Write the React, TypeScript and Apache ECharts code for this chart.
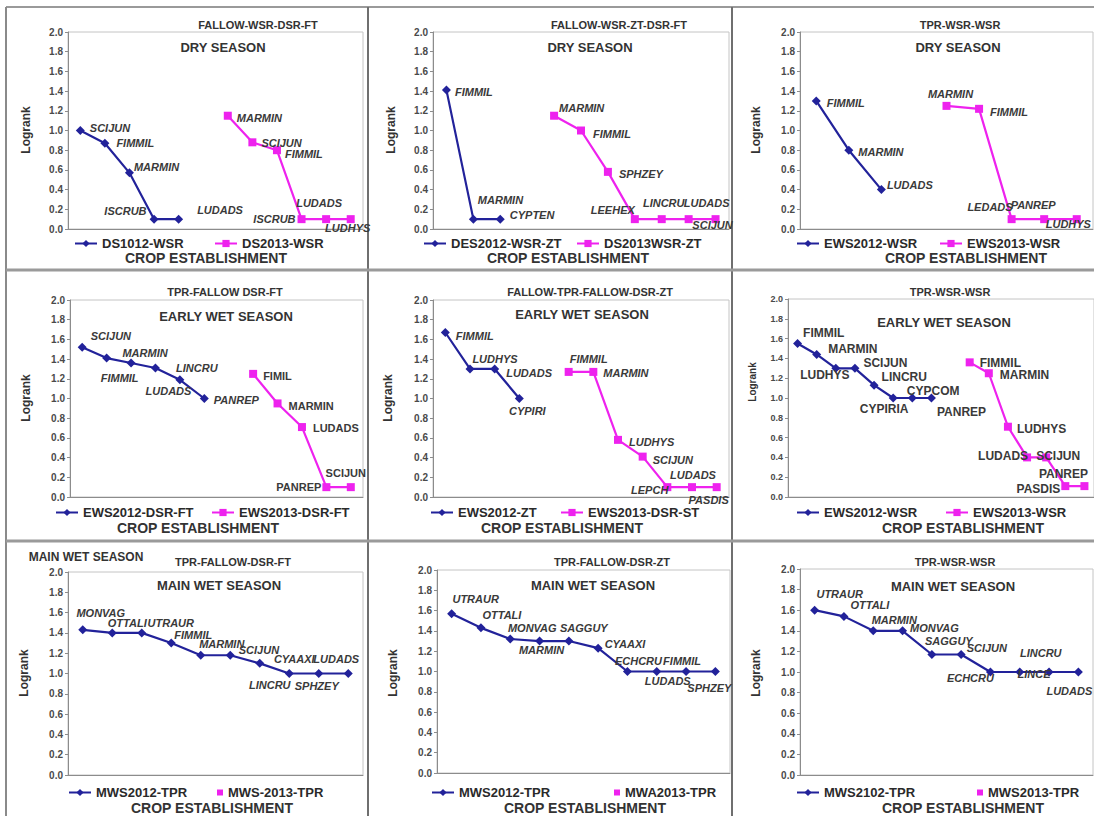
import React, { useEffect, useRef } from 'react';
import * as echarts from 'echarts';

const FONT = '"Liberation Sans", Arial, sans-serif';
const BLUE = '#22229a';
const PINK = '#ee22ee';
const TXT = '#333333';

// ---------- categories (crop-establishment slots, unlabeled in the original) ----------
const cats9 = ['1', '2', '3', '4', '5', '6', '7', '8', '9'];
const cats10 = ['1', '2', '3', '4', '5', '6', '7', '8', '9', '10'];
const cats11 = ['1', '2', '3', '4', '5', '6', '7', '8', '9', '10', '11'];
const cats12 = ['1', '2', '3', '4', '5', '6', '7', '8', '9', '10', '11', '12'];
const cats16 = ['1', '2', '3', '4', '5', '6', '7', '8', '9', '10', '11', '12', '13', '14', '15', '16'];

const yTicks = [0, 0.2, 0.4, 0.6, 0.8, 1.0, 1.2, 1.4, 1.6, 1.8, 2.0];

// ---------- Panel 1: FALLOW-WSR-DSR-FT, dry season ----------
const p1BlueName = 'DS1012-WSR';
const p1BlueStart = 0;
const p1Blue = [1.0, 0.87, 0.57, 0.1, 0.1];
const p1BlueWeeds = ['SCIJUN', 'FIMMIL', 'MARMIN', 'ISCRUB', 'LUDADS'];
const p1PinkName = 'DS2013-WSR';
const p1PinkStart = 6;
const p1Pink = [1.15, 0.88, 0.8, 0.1, 0.1, 0.1];
const p1PinkWeeds = ['MARMIN', 'SCIJUN', 'FIMMIL', 'ISCRUB', 'LUDADS', 'LUDHYS'];

// ---------- Panel 2: FALLOW-WSR-ZT-DSR-FT, dry season ----------
const p2BlueName = 'DES2012-WSR-ZT';
const p2BlueStart = 0;
const p2Blue = [1.41, 0.1, 0.1];
const p2BlueWeeds = ['FIMMIL', 'MARMIN', 'CYPTEN'];
const p2PinkName = 'DS2013WSR-ZT';
const p2PinkStart = 4;
const p2Pink = [1.15, 1.0, 0.58, 0.1, 0.1, 0.1, 0.1];
const p2PinkWeeds = ['MARMIN', 'FIMMIL', 'SPHZEY', 'LEEHEX', 'LINCRU', 'LUDADS', 'SCIJUN'];

// ---------- Panel 3: TPR-WSR-WSR, dry season ----------
const p3BlueName = 'EWS2012-WSR';
const p3BlueStart = 0;
const p3Blue = [1.3, 0.8, 0.4];
const p3BlueWeeds = ['FIMMIL', 'MARMIN', 'LUDADS'];
const p3PinkName = 'EWS2013-WSR';
const p3PinkStart = 4;
const p3Pink = [1.25, 1.22, 0.1, 0.1, 0.1];
const p3PinkWeeds = ['MARMIN', 'FIMMIL', 'LEDADS', 'PANREP', 'LUDHYS'];

// ---------- Panel 4: TPR-FALLOW DSR-FT, early wet season ----------
const p4BlueName = 'EWS2012-DSR-FT';
const p4BlueStart = 0;
const p4Blue = [1.52, 1.41, 1.36, 1.31, 1.19, 1.0];
const p4BlueWeeds = ['SCIJUN', 'FIMMIL', 'MARMIN', 'LUDADS', 'LINCRU', 'PANREP'];
const p4PinkName = 'EWS2013-DSR-FT';
const p4PinkStart = 7;
const p4Pink = [1.25, 0.95, 0.71, 0.1, 0.1];
const p4PinkWeeds = ['FIMIL', 'MARMIN', 'LUDADS', 'PANREP', 'SCIJUN'];

// ---------- Panel 5: FALLOW-TPR-FALLOW-DSR-ZT, early wet season ----------
const p5BlueName = 'EWS2012-ZT';
const p5BlueStart = 0;
const p5Blue = [1.67, 1.3, 1.3, 1.0];
const p5BlueWeeds = ['FIMMIL', 'LUDHYS', 'LUDADS', 'CYPIRI'];
const p5PinkName = 'EWS2013-DSR-ST';
const p5PinkStart = 5;
const p5Pink = [1.27, 1.27, 0.58, 0.41, 0.1, 0.1, 0.1];
const p5PinkWeeds = ['FIMMIL', 'MARMIN', 'LUDHYS', 'SCIJUN', 'LEPCH', 'LUDADS', 'PASDIS'];

// ---------- Panel 6: TPR-WSR-WSR, early wet season ----------
const p6BlueName = 'EWS2012-WSR';
const p6BlueStart = 0;
const p6Blue = [1.55, 1.44, 1.3, 1.3, 1.13, 1.0, 1.0, 1.0];
const p6BlueWeeds = ['FIMMIL', 'MARMIN', 'LUDHYS', 'SCIJUN', 'LINCRU', 'CYPIRIA', 'CYPCOM', 'PANREP'];
const p6PinkName = 'EWS2013-WSR';
const p6PinkStart = 9;
const p6Pink = [1.36, 1.25, 0.71, 0.4, 0.4, 0.11, 0.11];
const p6PinkWeeds = ['FIMMIL', 'MARMIN', 'LUDHYS', 'LUDADS', 'SCIJUN', 'PASDIS', 'PANREP'];

// ---------- Panel 7: TPR-FALLOW-DSR-FT, main wet season ----------
const p7BlueName = 'MWS2012-TPR';
const p7BlueStart = 0;
const p7Blue = [1.43, 1.4, 1.4, 1.3, 1.18, 1.18, 1.1, 1.0, 1.0, 1.0];
const p7BlueWeeds = ['MONVAG', 'OTTALI', 'UTRAUR', 'FIMMIL', 'MARMIN', 'SCIJUN', 'LINCRU', 'CYAAXI', 'SPHZEY', 'LUDADS'];
const p7PinkName = 'MWS-2013-TPR';
const p7PinkStart = 0;
const p7Pink: number[] = [];
const p7PinkWeeds: string[] = [];

// ---------- Panel 8: TPR-FALLOW-DSR-ZT, main wet season ----------
const p8BlueName = 'MWS2012-TPR';
const p8BlueStart = 0;
const p8Blue = [1.57, 1.43, 1.32, 1.3, 1.3, 1.23, 1.0, 1.0, 1.0, 1.0];
const p8BlueWeeds = ['UTRAUR', 'OTTALI', 'MONVAG', 'MARMIN', 'SAGGUY', 'CYAAXI', 'ECHCRU', 'LUDADS', 'FIMMIL', 'SPHZEY'];
const p8PinkName = 'MWA2013-TPR';
const p8PinkStart = 0;
const p8Pink: number[] = [];
const p8PinkWeeds: string[] = [];

// ---------- Panel 9: TPR-WSR-WSR, main wet season ----------
const p9BlueName = 'MWS2102-TPR';
const p9BlueStart = 0;
const p9Blue = [1.6, 1.54, 1.4, 1.4, 1.17, 1.17, 1.0, 1.0, 1.0, 1.0];
const p9BlueWeeds = ['UTRAUR', 'OTTALI', 'MARMIN', 'MONVAG', 'SAGGUY', 'SCIJUN', 'ECHCRU', 'LINCRU', 'LINCE', 'LUDADS'];
const p9PinkName = 'MWS2013-TPR';
const p9PinkStart = 0;
const p9Pink: number[] = [];
const p9PinkWeeds: string[] = [];

// ---------- label placements (style only): [side, dx, dy] ----------
type Place = [string, number, number];
const p1BluePlace: Place[] = [['r', 0, -3], ['r', 2, 0], ['r', -5, -6], ['l', 2, -8], ['r', 9, -9]];
const p1PinkPlace: Place[] = [['r', 0, 2], ['r', 0, 1], ['r', -1, 4], ['l', 3, 0], ['t', -7, -2], ['b', -3, -6]];
const p2BluePlace: Place[] = [['r', -1, 2], ['r', -5, -19], ['r', 0, -4]];
const p2PinkPlace: Place[] = [['r', -4, -8], ['r', 3, 3], ['r', 2, 2], ['l', 9, -9], ['t', 2, -2], ['t', 18, -2], ['b', -3, -9]];
const p3BluePlace: Place[] = [['r', 1, 2], ['r', 0, 2], ['r', -4, -5]];
const p3PinkPlace: Place[] = [['t', 4, 3], ['r', 2, 3], ['l', 10, -12], ['t', -11, 0], ['r', -40, 5]];
const p4BluePlace: Place[] = [['r', -1, -11], ['b', 13, 5], ['t', 14, 5], ['b', 13, 8], ['t', 17, 3], ['r', 0, 1]];
const p4PinkPlace: Place[] = [['r', 1, 2], ['r', 2, 3], ['r', 2, 1], ['l', 4, 0], ['t', -5, 0]];
const p5BluePlace: Place[] = [['r', 1, 3], ['t', 25, 5], ['r', 2, 4], ['b', 8, -3]];
const p5PinkPlace: Place[] = [['t', 20, 2], ['r', 1, 1], ['r', 2, 2], ['r', 1, 3], ['l', 10, 3], ['t', 1, 2], ['b', -8, -2]];
const p6BluePlace: Place[] = [['r', -4, -11], ['r', 2, -5], ['b', -11, -9], ['r', -1, -5], ['r', -2, -8], ['b', -9, -5], ['r', -15, -7], ['r', -4, 14]];
const p6PinkPlace: Place[] = [['r', 1, 1], ['r', 2, 2], ['r', 0, 2], ['l', 10, -1], ['r', -19, -1], ['l', 4, 3], ['t', -21, 3]];
const p7BluePlace: Place[] = [['t', 18, -2], ['t', 15, 5], ['t', 29, 5], ['t', 22, 7], ['t', 21, 4], ['r', -1, -5], ['b', 10, 7], ['t', 5, 0], ['b', -2, -3], ['t', -12, 0]];
const p8BluePlace: Place[] = [['t', 24, 0], ['t', 21, 2], ['t', 22, 4], ['b', 2, -6], ['t', 15, 2], ['r', -3, -4], ['t', 11, 4], ['b', 11, -6], ['t', -4, 4], ['b', -6, 1]];
const p9BluePlace: Place[] = [['t', 25, -1], ['t', 26, 4], ['t', 21, 4], ['r', -2, -3], ['t', 17, 2], ['r', -4, -6], ['l', 13, 6], ['t', 21, -4], ['l', 11, 2], ['b', -9, 4]];

const SIDE: Record<string, string> = { r: 'right', l: 'left', t: 'top', b: 'bottom' };

// ---------- layout (positions and text styles) ----------
const panels = [
  { cats: cats12, grid: [68, 32, 295, 197], title: 'FALLOW-WSR-DSR-FT', tx: 258, ty: 25, sub: 'DRY SEASON', sx: 223, sy: 47, cx: 206, cy: 258, lx: 26, ly: 130, lgB: 74, lgP: 214, lgY: 244,
    blue: [p1BlueName, p1BlueStart, p1Blue, p1BlueWeeds, p1BluePlace], pink: [p1PinkName, p1PinkStart, p1Pink, p1PinkWeeds, p1PinkPlace], bItal: true, pItal: true, lblSize: 11, tick: 10 },
  { cats: cats11, grid: [433, 32, 296, 197], title: 'FALLOW-WSR-ZT-DSR-FT', tx: 619, ty: 25, sub: 'DRY SEASON', sx: 590, sy: 47, cx: 568, cy: 258, lx: 391, ly: 130, lgB: 423, lgP: 576, lgY: 244,
    blue: [p2BlueName, p2BlueStart, p2Blue, p2BlueWeeds, p2BluePlace], pink: [p2PinkName, p2PinkStart, p2Pink, p2PinkWeeds, p2PinkPlace], bItal: true, pItal: true, lblSize: 11, tick: 10 },
  { cats: cats9, grid: [800, 32, 293, 197], title: 'TPR-WSR-WSR', tx: 960, ty: 25, sub: 'DRY SEASON', sx: 958, sy: 47, cx: 966, cy: 258, lx: 756, ly: 130, lgB: 796, lgP: 939, lgY: 244,
    blue: [p3BlueName, p3BlueStart, p3Blue, p3BlueWeeds, p3BluePlace], pink: [p3PinkName, p3PinkStart, p3Pink, p3PinkWeeds, p3PinkPlace], bItal: true, pItal: true, lblSize: 11, tick: 10 },
  { cats: cats12, grid: [70, 300, 293, 197], title: 'TPR-FALLOW DSR-FT', tx: 225, ty: 292, sub: 'EARLY WET SEASON', sx: 226, sy: 316, cx: 198, cy: 528, lx: 26, ly: 398, lgB: 55, lgP: 211, lgY: 513,
    blue: [p4BlueName, p4BlueStart, p4Blue, p4BlueWeeds, p4BluePlace], pink: [p4PinkName, p4PinkStart, p4Pink, p4PinkWeeds, p4PinkPlace], bItal: true, pItal: false, lblSize: 11, tick: 10 },
  { cats: cats12, grid: [433, 300, 296, 197], title: 'FALLOW-TPR-FALLOW-DSR-ZT', tx: 590, ty: 292, sub: 'EARLY WET SEASON', sx: 582, sy: 314, cx: 562, cy: 528, lx: 388, ly: 398, lgB: 430, lgP: 560, lgY: 513,
    blue: [p5BlueName, p5BlueStart, p5Blue, p5BlueWeeds, p5BluePlace], pink: [p5PinkName, p5PinkStart, p5Pink, p5PinkWeeds, p5PinkPlace], bItal: true, pItal: true, lblSize: 11, tick: 10 },
  { cats: cats16, grid: [788, 299, 306, 198], title: 'TPR-WSR-WSR', tx: 950, ty: 292, sub: 'EARLY WET SEASON', sx: 944, sy: 322, cx: 963, cy: 528, lx: 752, ly: 382, lgB: 796, lgP: 945, lgY: 513,
    blue: [p6BlueName, p6BlueStart, p6Blue, p6BlueWeeds, p6BluePlace], pink: [p6PinkName, p6PinkStart, p6Pink, p6PinkWeeds, p6PinkPlace], bItal: false, pItal: false, lblSize: 12, tick: 9 },
  { cats: cats10, grid: [68, 572, 295, 203], title: 'TPR-FALLOW-DSR-FT', tx: 233, ty: 562, sub: 'MAIN WET SEASON', sx: 219, sy: 585, cx: 212, cy: 808, lx: 24, ly: 673, lgB: 68, lgP: 217, lgY: 793,
    blue: [p7BlueName, p7BlueStart, p7Blue, p7BlueWeeds, p7BluePlace], pink: [p7PinkName, p7PinkStart, p7Pink, p7PinkWeeds, []], bItal: true, pItal: true, lblSize: 11, tick: 10 },
  { cats: cats10, grid: [437, 570, 293, 203], title: 'TPR-FALLOW-DSR-ZT', tx: 612, ty: 562, sub: 'MAIN WET SEASON', sx: 593, sy: 585, cx: 585, cy: 808, lx: 393, ly: 673, lgB: 431, lgP: 614, lgY: 793,
    blue: [p8BlueName, p8BlueStart, p8Blue, p8BlueWeeds, p8BluePlace], pink: [p8PinkName, p8PinkStart, p8Pink, p8PinkWeeds, []], bItal: true, pItal: true, lblSize: 11, tick: 10 },
  { cats: cats10, grid: [800, 569, 293, 206], title: 'TPR-WSR-WSR', tx: 955, ty: 562, sub: 'MAIN WET SEASON', sx: 953, sy: 586, cx: 963, cy: 808, lx: 756, ly: 673, lgB: 796, lgP: 977, lgY: 793,
    blue: [p9BlueName, p9BlueStart, p9Blue, p9BlueWeeds, p9BluePlace], pink: [p9PinkName, p9PinkStart, p9Pink, p9PinkWeeds, []], bItal: true, pItal: true, lblSize: 11, tick: 10 },
];

function buildData(n: number, start: number, values: number[], names: string[], places: Place[]) {
  const arr: any[] = [];
  for (let i = 0; i < n; i++) arr.push('-');
  values.forEach((v, k) => {
    const p = places[k] || ['r', 0, 0];
    arr[start + k] = {
      value: v,
      label: { show: true, formatter: names[k], position: SIDE[p[0]], offset: [p[1], p[2]] },
    };
  });
  return arr;
}

function buildOption() {
  const grid: any[] = [];
  const xAxis: any[] = [];
  const yAxis: any[] = [];
  const series: any[] = [];
  const legend: any[] = [];
  const graphic: any[] = [];

  const frameLine = (x1: number, y1: number, x2: number, y2: number, w: number, c: string) => ({
    type: 'line', silent: true, shape: { x1, y1, x2, y2 }, style: { stroke: c, lineWidth: w },
  });
  graphic.push(frameLine(6, 7, 1094, 7, 2, '#9a9a9a'));
  graphic.push(frameLine(6, 7, 6, 816, 2, '#8a8a8a'));
  graphic.push(frameLine(368, 7, 368, 816, 2, '#6f6f6f'));
  graphic.push(frameLine(732, 7, 732, 816, 2, '#6f6f6f'));
  graphic.push(frameLine(6, 270, 1094, 270, 3, '#9a9a9a'));
  graphic.push(frameLine(6, 541, 1094, 541, 3, '#9a9a9a'));

  panels.forEach((p, i) => {
    const [gl, gt, gw, gh] = p.grid;
    grid.push({ left: gl, top: gt, width: gw, height: gh, show: true, borderColor: '#c4c4c4', borderWidth: 1, containLabel: false });
    xAxis.push({
      gridIndex: i, type: 'category', data: p.cats, boundaryGap: true,
      axisLine: { show: true, lineStyle: { color: '#8c8c8c', width: 1 } },
      axisTick: { show: false }, axisLabel: { show: false }, splitLine: { show: false },
    });
    yAxis.push({
      gridIndex: i, type: 'value', min: 0, max: 2, interval: 0.2,
      axisLine: { show: true, lineStyle: { color: '#8c8c8c', width: 1 } },
      axisTick: { show: true, length: 3, lineStyle: { color: '#8c8c8c' } },
      axisLabel: {
        fontSize: p.tick, fontWeight: 'bold', color: '#4a4a4a', fontFamily: FONT, margin: 5,
        formatter: (v: number) => (yTicks.indexOf(Math.round(v * 10) / 10) >= 0 ? v.toFixed(1) : ''),
      },
      splitLine: { show: false },
    });

    const [bName, bStart, bVals, bWeeds, bPlace] = p.blue as any;
    const [pName, pStart, pVals, pWeeds, pPlace] = p.pink as any;
    const lblBase = (ital: boolean) => ({
      show: true, fontSize: p.lblSize, fontWeight: 'bold', fontStyle: ital ? 'italic' : 'normal',
      color: '#3a3a3a', fontFamily: FONT,
    });
    series.push({
      type: 'line', name: bName, xAxisIndex: i, yAxisIndex: i,
      data: buildData(p.cats.length, bStart, bVals, bWeeds, bPlace),
      symbol: 'diamond', symbolSize: 9, showAllSymbol: true,
      lineStyle: { color: BLUE, width: 2.2 }, itemStyle: { color: BLUE },
      label: lblBase(p.bItal), emphasis: { disabled: true }, connectNulls: false,
    });
    series.push({
      type: 'line', name: pName, xAxisIndex: i, yAxisIndex: i,
      data: buildData(p.cats.length, pStart, pVals, pWeeds, pPlace),
      symbol: 'rect', symbolSize: 8, showAllSymbol: true,
      lineStyle: { color: PINK, width: 2.2 }, itemStyle: { color: PINK },
      label: lblBase(p.pItal), emphasis: { disabled: true }, connectNulls: false,
    });

    const legText = { fontSize: 13, fontWeight: 'bold', color: '#2a2a2a', fontFamily: FONT };
    legend.push({
      data: [bName], left: p.lgB, top: p.lgY - 7, padding: 0, itemWidth: 22, itemHeight: 9,
      itemGap: 0, textStyle: legText, selectedMode: false,
    });
    const emptyPink = pVals.length === 0;
    legend.push({
      data: emptyPink ? [{ name: pName, icon: 'rect' }] : [pName],
      left: p.lgP, top: p.lgY - 7, padding: 0,
      itemWidth: emptyPink ? 6 : 22, itemHeight: emptyPink ? 6 : 9,
      itemGap: 0, textStyle: legText, selectedMode: false,
    });

    const txt = (x: number, y: number, text: string, size: number, rot = 0) => ({
      type: 'text', silent: true, x, y, rotation: rot,
      style: { text, fontSize: size, fontWeight: 'bold', fontFamily: FONT, fill: TXT, textAlign: 'center', textVerticalAlign: 'middle' },
    });
    graphic.push(txt(p.tx, p.ty, p.title, 11));
    graphic.push(txt(p.sx, p.sy, p.sub, 13));
    graphic.push(txt(p.cx, p.cy, 'CROP ESTABLISHMENT', 14));
    graphic.push(txt(p.lx, p.ly, 'Logrank', i === 5 ? 10 : 12, Math.PI / 2));
  });

  graphic.push({
    type: 'text', silent: true, x: 86, y: 557,
    style: { text: 'MAIN WET SEASON', fontSize: 12, fontWeight: 'bold', fontFamily: FONT, fill: TXT, textAlign: 'center', textVerticalAlign: 'middle' },
  });

  return {
    animation: false,
    backgroundColor: '#ffffff',
    grid, xAxis, yAxis, series, legend, graphic,
    tooltip: { show: false },
  };
}

export default function App() {
  const ref = useRef<HTMLDivElement>(null);
  useEffect(() => {
    document.body.style.margin = '0';
    if (!ref.current) return;
    const chart = echarts.init(ref.current, undefined, { renderer: 'svg' });
    chart.setOption(buildOption() as any);
    return () => chart.dispose();
  }, []);
  return <div ref={ref} style={{ position: 'relative', width: 1094, height: 816, background: '#fff' }} />;
}
